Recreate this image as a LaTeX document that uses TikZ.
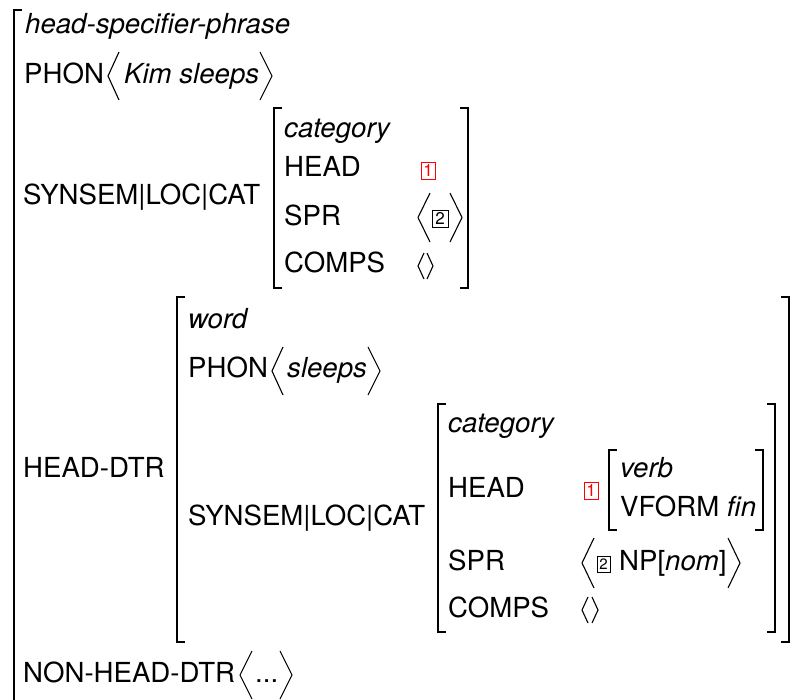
\documentclass[tikz,border=0pt]{standalone}
\usepackage{fontspec}
\setmainfont{TeX Gyre Heros}
% square brackets of a feature structure: left/right, x, top y, bottom y
\newcommand\avmL[3]{\draw[brk] ({#1+8},#2) -- (#1,#2) -- (#1,#3) -- ({#1+8},#3);}
\newcommand\avmR[3]{\draw[brk] ({#1-8},#2) -- (#1,#2) -- (#1,#3) -- ({#1-8},#3);}
% angle brackets of a list: x of the point, x of the open ends, top y, bottom y
\newcommand\lang[4]{\draw[ang] (#2,#3) -- (#1,{(#3+#4)/2}) -- (#2,#4);}
\begin{document}
\begin{tikzpicture}[x=1pt,y=-1pt,
  lbl/.style={anchor=base west, inner sep=0pt, font=\fontsize{27.6}{32}\selectfont},
  brk/.style={line width=2pt},
  ang/.style={line width=1.1pt, line join=miter},
  tag/.style={draw, inner sep=0pt, line width=0.9pt, font=\fontsize{17}{17}\selectfont}]
\useasboundingbox (0,0) rectangle (790,699);
\clip (0,0) rectangle (790,699);

% outer structure
\draw[brk] (22,10) -- (14,10) -- (14,720);
\node[lbl] (type) at (25,33) {\textit{head-specifier-phrase}};
\node[lbl] (phon) at (24,83) {PHON};
\lang{108}{119}{52}{100}
\node[lbl] (phonv) at (124,83) {\textit{Kim sleeps}};
\lang{272}{260}{52}{100}

% mother category
\node[lbl] (slc) at (23,204) {SYNSEM|LOC|CAT};
\avmL{274}{108}{288}
\avmR{468}{108}{288}
\node[lbl] (cat1) at (284,137) {\textit{category}};
\node[lbl] (head1) at (284,176) {HEAD};
\node[lbl] (spr1) at (284,225) {SPR};
\node[lbl] (comps1) at (284,272) {COMPS};
\node[tag, red, minimum width=14pt, minimum height=17pt] (t1a) at (428,170.5) {1};
\lang{418}{430}{193}{242}
\node[tag, minimum width=16pt, minimum height=17pt] (t2a) at (440,218.5) {2};
\lang{462}{450}{193}{242}
\lang{418}{424}{253}{279}
\lang{433}{427}{253}{279}

% head daughter
\node[lbl] (hd) at (23,477) {HEAD-DTR};
\avmL{177}{297}{642}
\avmR{789}{297}{642}
\node[lbl] (word) at (188,328) {\textit{word}};
\node[lbl] (phon2) at (188,377) {PHON};
\lang{272}{283}{347}{395}
\node[lbl] (phonv2) at (287,377) {\textit{sleeps}};
\lang{380}{368}{347}{395}
\node[lbl] (slc2) at (188,525) {SYNSEM|LOC|CAT};
\avmL{438}{404}{632}
\avmR{775}{404}{632}
\node[lbl] (cat2) at (448,432) {\textit{category}};
\node[lbl] (head2) at (448,497) {HEAD};
\node[tag, red, minimum width=14pt, minimum height=17pt] (t1b) at (591,490.5) {1};
\avmL{609}{450}{530}
\avmR{763}{450}{530}
\node[lbl] (verb) at (620,477) {\textit{verb}};
\node[lbl] (vform) at (620,516) {VFORM \textit{fin}};
\node[lbl] (spr2) at (448,570) {SPR};
\lang{582}{594}{538}{588}
\node[tag, minimum width=13pt, minimum height=16pt, font=\fontsize{15}{15}\selectfont] (t2b) at (603.5,564) {2};
\node[lbl] (np) at (619,570) {NP[\textit{nom}]};
\lang{740}{728}{538}{588}
\node[lbl] (comps2) at (448,617) {COMPS};
\lang{582}{588}{597}{623}
\lang{598}{592}{597}{623}

% non-head daughter
\node[lbl] (nhd) at (23,682) {NON-HEAD-DTR};
\lang{240}{252}{651}{699}
\node[lbl] (dots) at (255,682) {...};
\lang{292}{280}{651}{699}
\end{tikzpicture}
\end{document}
